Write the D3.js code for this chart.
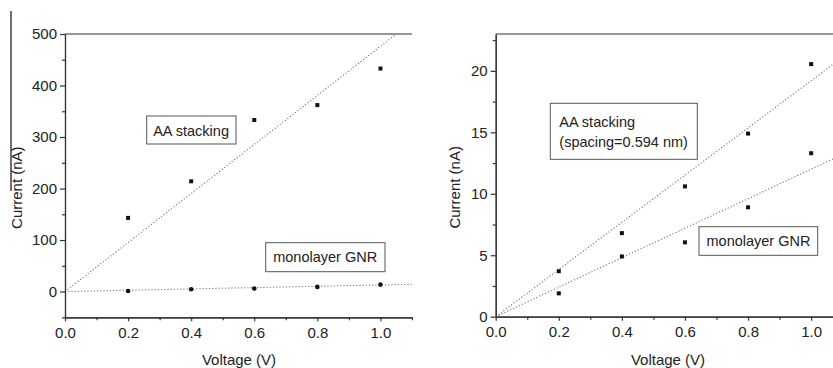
<!DOCTYPE html>
<html>
<head>
<meta charset="utf-8">
<script src="https://cdn.jsdelivr.net/npm/d3@7"></script>
<style>
  body { margin: 0; background: #fff; }
  svg { display: block; font-family: "Liberation Sans", Arial, sans-serif; }
  .tick text { fill: #222; font-size: 15px; }
  .domain, .tick line { stroke: #333; stroke-width: 1.2; }
</style>
</head>
<body>
<div id="chart"></div>
<script>
// voltage points (V)
const voltage = [0.2, 0.4, 0.6, 0.8, 1.0];

// left panel: current (nA)
const leftAA = [143, 214, 333, 362, 433];
const leftMono = [1, 4.5, 6, 9, 13.5];
const leftFitSlope = { aa: 476, mono: 12.8 };

// right panel: current (nA)
const rightAA = [3.7, 6.8, 10.6, 14.9, 20.55];
const rightMono = [1.9, 4.9, 6.05, 8.9, 13.3];
const rightFitSlope = { aa: 19.2, mono: 12.0 };

const xTicks = [0.0, 0.2, 0.4, 0.6, 0.8, 1.0];
const xMinor = [0.1, 0.3, 0.5, 0.7, 0.9, 1.1];
const leftYTicks = [0, 100, 200, 300, 400, 500];
const leftYMinor = [-50, 50, 150, 250, 350, 450];
const rightYTicks = [0, 5, 10, 15, 20];
const rightYMinor = [2.5, 7.5, 12.5, 17.5, 22.5];

const svg = d3.select("#chart").append("svg")
  .attr("width", 833)
  .attr("height", 368);

// scan artefact line over the left axis title
svg.append("line")
  .attr("x1", 11).attr("x2", 11).attr("y1", 11).attr("y2", 191)
  .attr("stroke", "#111").attr("stroke-width", 1.2);

function drawPanel(opt) {
  const x = d3.scaleLinear().domain([0, 1.1]).range([opt.left, opt.left + opt.xLen]);
  const y = d3.scaleLinear().domain(opt.yDomain).range([opt.bottom, opt.top]);
  const g = svg.append("g");

  // top frame line
  g.append("line")
    .attr("x1", x(0)).attr("x2", x(1.1))
    .attr("y1", y(opt.yDomain[1])).attr("y2", y(opt.yDomain[1]))
    .attr("stroke", "#333").attr("stroke-width", 1.2);

  // fit lines through origin
  [opt.slopeAA, opt.slopeMono].forEach(s => {
    const xEnd = Math.min(1.1, opt.yDomain[1] / s);
    g.append("line")
      .attr("x1", x(0)).attr("y1", y(0))
      .attr("x2", x(xEnd)).attr("y2", y(s * xEnd))
      .attr("stroke", "#777").attr("stroke-width", 1.1)
      .attr("stroke-dasharray", "1.2,2");
  });

  // axes
  g.append("g")
    .attr("transform", `translate(0,${opt.bottom})`)
    .call(d3.axisBottom(x).tickValues(xMinor).tickSize(3).tickFormat("").tickSizeOuter(0));
  g.append("g")
    .attr("transform", `translate(0,${opt.bottom})`)
    .call(d3.axisBottom(x).tickValues(xTicks).tickSize(4).tickPadding(6)
      .tickFormat(d3.format(".1f")).tickSizeOuter(0));
  g.append("g")
    .attr("transform", `translate(${opt.left},0)`)
    .call(d3.axisLeft(y).tickValues(opt.yMinor).tickSize(3).tickFormat("").tickSizeOuter(0));
  g.append("g")
    .attr("transform", `translate(${opt.left},0)`)
    .call(d3.axisLeft(y).tickValues(opt.yTicks).tickSize(5).tickPadding(3).tickSizeOuter(0));

  // data points
  g.selectAll(".aa").data(opt.aa).enter().append("rect")
    .attr("x", (d, i) => x(voltage[i]) - 2)
    .attr("y", d => y(d) - 2)
    .attr("width", 4).attr("height", 4)
    .attr("fill", "#111");
  if (opt.roundMono) {
    g.selectAll(".mono").data(opt.mono).enter().append("circle")
      .attr("cx", (d, i) => x(voltage[i]))
      .attr("cy", d => y(d))
      .attr("r", 2.3)
      .attr("fill", "#111");
  } else {
    g.selectAll(".mono").data(opt.mono).enter().append("rect")
      .attr("x", (d, i) => x(voltage[i]) - 2)
      .attr("y", d => y(d) - 2)
      .attr("width", 4).attr("height", 4)
      .attr("fill", "#111");
  }

  // axis titles
  g.append("text")
    .attr("transform", `translate(${opt.yTitleX},${(opt.top + opt.bottom) / 2 + 12}) rotate(-90)`)
    .attr("text-anchor", "middle")
    .attr("font-size", 15).attr("fill", "#222")
    .text("Current (nA)");
  g.append("text")
    .attr("x", opt.xTitleX).attr("y", 365)
    .attr("text-anchor", "middle")
    .attr("font-size", 15).attr("fill", "#222")
    .text("Voltage (V)");

  // label boxes
  opt.labels.forEach(l => {
    g.append("rect")
      .attr("x", l.x).attr("y", l.y).attr("width", l.w).attr("height", l.h)
      .attr("fill", "#fff").attr("stroke", "#555").attr("stroke-width", 1);
    l.lines.forEach((t, i) => {
      g.append("text")
        .attr("x", l.x + l.pad).attr("y", l.y + l.base + i * 19.5)
        .attr("font-size", 14.5).attr("fill", "#222")
        .text(t);
    });
  });
}

drawPanel({
  left: 65, xLen: 347, top: 34, bottom: 317.3,
  yDomain: [-50, 500], yTicks: leftYTicks, yMinor: leftYMinor,
  aa: leftAA, mono: leftMono, roundMono: true,
  slopeAA: leftFitSlope.aa, slopeMono: leftFitSlope.mono,
  yTitleX: 22, xTitleX: 239,
  labels: [
    { x: 146.7, y: 116, w: 89.3, h: 28, pad: 6.5, base: 19.5, lines: ["AA stacking"] },
    { x: 265.7, y: 242.7, w: 119.3, h: 29, pad: 7.5, base: 19.5, lines: ["monolayer GNR"] }
  ]
});

drawPanel({
  left: 495.7, xLen: 347, top: 34, bottom: 316.7,
  yDomain: [0, 23], yTicks: rightYTicks, yMinor: rightYMinor,
  aa: rightAA, mono: rightMono, roundMono: false,
  slopeAA: rightFitSlope.aa, slopeMono: rightFitSlope.mono,
  yTitleX: 460, xTitleX: 668,
  labels: [
    { x: 550.3, y: 103.3, w: 147, h: 56, pad: 9, base: 24, lines: ["AA stacking", "(spacing=0.594 nm)"] },
    { x: 699, y: 226.7, w: 118.7, h: 28.6, pad: 7.5, base: 19, lines: ["monolayer GNR"] }
  ]
});
</script>
</body>
</html>
